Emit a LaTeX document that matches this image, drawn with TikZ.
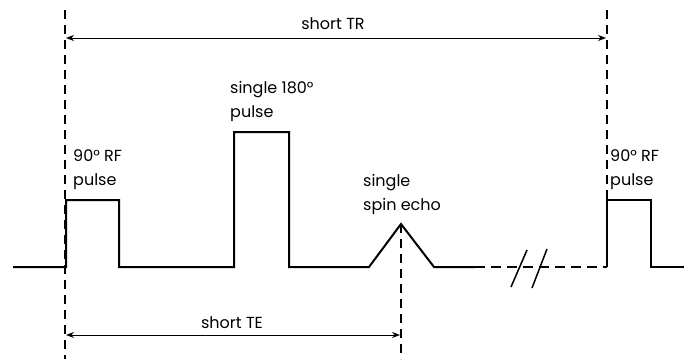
\documentclass[tikz,border=0pt]{standalone}
\usepackage{fontspec}
\setmainfont{Poppins}
\usetikzlibrary{arrows.meta}
\begin{document}
\begin{tikzpicture}[x=1pt,y=-1pt,>={Stealth[length=8pt,width=6pt]},
 sig/.style={line width=2pt,line join=miter},
 guide/.style={line width=1.5pt,dash pattern=on 9pt off 6pt},
 span/.style={<->,line width=1pt},
 lbl/.style={anchor=base west,align=left,inner sep=0pt,font=\fontsize{16}{23.5}\selectfont}]
\useasboundingbox (0,0) rectangle (688,359);
% Waveform corners: 90 pulse, 180 pulse, echo, break, next 90 pulse.
\coordinate (w0) at (13,267);
\coordinate (p1a) at (66,267);
\coordinate (p1b) at (66,200);
\coordinate (p1c) at (119,200);
\coordinate (p1d) at (119,267);
\coordinate (p2a) at (234,267);
\coordinate (p2b) at (234,132);
\coordinate (p2c) at (289,132);
\coordinate (p2d) at (289,267);
\coordinate (ea) at (369,267);
\coordinate (ep) at (401,224);
\coordinate (eb) at (434,267);
\coordinate (ec) at (475,267);
\coordinate (p3a) at (607,267);
\coordinate (p3b) at (607,200);
\coordinate (p3c) at (651,200);
\coordinate (p3d) at (651,267);
\coordinate (w1) at (684,267);
\draw[sig] (w0) -- (p1a) -- (p1b) -- (p1c) -- (p1d) -- (p2a) -- (p2b) -- (p2c) -- (p2d)
 -- (ea) -- (ep) -- (eb) -- (ec);
\draw[sig,dash pattern=on 10pt off 6pt] (ec) -- (p3a);
\draw[sig] (p3a) -- (p3b) -- (p3c) -- (p3d) -- (w1);
% Break marks.
\coordinate (k1) at (511,287);
\coordinate (k2) at (527,250);
\coordinate (k3) at (532,288);
\coordinate (k4) at (547,249);
\draw[line width=1.5pt] (k1) -- (k2);
\draw[line width=1.5pt] (k3) -- (k4);
% Timing guides.
\coordinate (g1t) at (65,10);
\coordinate (g1b) at (65,359);
\coordinate (g2t) at (607,10);
\coordinate (g3b) at (401,359);
\draw[guide] (g1t) -- (g1b);
\draw[guide] (g2t) -- (p3a);
\draw[guide] (ep) -- (g3b);
\coordinate (tr1) at (66,38);
\coordinate (tr2) at (606,38);
\draw[span] (tr1) -- (tr2);
\coordinate (te1) at (66,335);
\coordinate (te2) at (400,335);
\draw[span] (te1) -- (te2);
% Labels (base = last line).
\node[lbl,anchor=base] (ltr) at (333,29) {short TR};
\node[lbl,anchor=base] (lte) at (232,328) {short TE};
\node[lbl] (l90a) at (73,185) {90° RF\\pulse};
\node[lbl] (l180) at (230,117) {single 180°\\pulse};
\node[lbl] (lecho) at (363,210) {single\\spin echo};
\node[lbl] (l90b) at (610,185) {90° RF\\pulse};
\end{tikzpicture}
\end{document}
